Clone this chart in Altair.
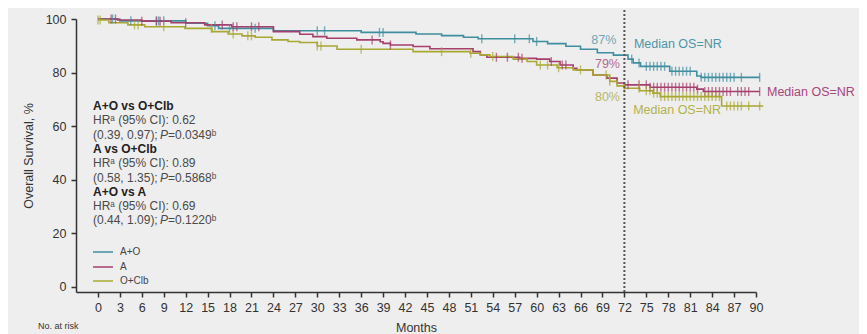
import altair as alt
import pandas as pd
import numpy as np

# ---------------- data ----------------
series = ["A+O", "A", "O+Clb"]
colors = ["#3f8e9f", "#a63f6c", "#a9a830"]

ao_t = [0, 3, 12, 15, 16.5, 24, 36, 43.5, 47, 50, 52, 59.5, 61.5, 64, 66, 68.3, 70.5, 72.5, 73.2, 74.2, 78.2, 81.9, 82.5, 90.5]
ao_s = [100, 99.3, 98.4, 97.5, 96.5, 95.6, 95.0, 94.4, 93.8, 93.2, 92.6, 91.6, 90.8, 89.8, 88.7, 87.4, 86.5, 85.0, 83.6, 82.3, 80.5, 78.7, 78.2, 78.2]

a_t = [0, 2.7, 6, 10, 14.6, 18.3, 24, 27.6, 29.4, 31.3, 35.4, 38.6, 39, 40, 43.1, 45.4, 51.3, 52.3, 53.2, 57.7, 60, 61.8, 63.2, 65, 65.5, 67.7, 69.6, 71, 72, 75.5, 81.9, 82.8, 90.5]
a_s = [100, 99.6, 99.2, 98.6, 97.8, 97.1, 95.3, 94.3, 93.4, 92.8, 92.2, 91.5, 90.9, 90.3, 89.7, 88.9, 87.8, 86.6, 85.7, 85.3, 85.0, 84.1, 82.8, 81.6, 81.0, 79.1, 77.9, 76.1, 75.4, 74.5, 73.8, 72.9, 72.9]

oc_t = [0, 1.5, 4.1, 6.4, 11.9, 15.6, 17.8, 19.7, 21.5, 23.8, 26, 27.6, 30, 32.7, 43.1, 50.9, 52.3, 53.6, 56.8, 58.7, 60, 62.8, 65, 67.7, 70, 71, 72, 74.1, 75.9, 76.9, 85.3, 91]
oc_s = [99.6, 98.6, 97.8, 97.1, 96.5, 95.3, 94.4, 93.7, 93.2, 92.2, 91.6, 91.2, 89.9, 88.7, 87.8, 87.2, 86.6, 86.0, 85.0, 84.1, 82.8, 81.8, 81.0, 79.1, 76.7, 75.0, 74.1, 73.2, 72.3, 71.0, 67.5, 67.5]

ao_cens = [2, 4.5, 8, 8.3, 9, 16, 18, 21.5, 30, 31, 38.5, 39, 52.5, 57, 59, 60, 73, 74, 75, 75.5, 76, 76.5, 77, 77.5, 78.5, 79, 79.5, 80, 80.5, 81, 82.5, 83, 83.5, 84, 84.5, 85, 85.5, 86, 86.5, 87, 88, 90.5]
a_cens = [1.8, 2.4, 6, 8, 8.5, 12, 17, 18.5, 19, 21, 22, 37.5, 40, 54.5, 56, 57.5, 58, 62, 63.5, 64, 72.5, 74, 75, 75.5, 76, 76.5, 77, 77.5, 78, 78.5, 79, 79.5, 80, 80.5, 81, 81.5, 82, 83, 83.5, 84, 84.5, 85, 85.5, 86, 86.5, 87.5, 88, 88.5, 89, 90.5]
oc_cens = [0, 0.3, 5, 5.5, 9, 15.5, 18.5, 20.5, 21, 30, 30.5, 36, 47, 51, 54, 60.5, 61.5, 63, 66, 69.5, 70, 72, 74, 75, 75.5, 76, 76.5, 77, 77.5, 78, 78.5, 79, 79.5, 80, 80.5, 81, 81.5, 82, 82.5, 83, 83.5, 84, 84.5, 85, 86, 86.5, 87, 87.5, 88, 89, 90.5]

x_ticks = list(range(0, 91, 3))
y_ticks = [0, 20, 40, 60, 80, 100]

stats_bold = ["A+O vs O+Clb", "A vs O+Clb", "A+O vs A"]
stats_hr = ["HRᵃ (95% CI): 0.62", "HRᵃ (95% CI): 0.89", "HRᵃ (95% CI): 0.69"]
stats_ci = ["(0.39, 0.97); ", "(0.58, 1.35); ", "(0.44, 1.09); "]
stats_p = ["=0.0349ᵇ", "=0.5868ᵇ", "=0.1220ᵇ"]

# ---------------- tables ----------------
curves = [(ao_t, ao_s, ao_cens), (a_t, a_s, a_cens), (oc_t, oc_s, oc_cens)]
rows, cens_rows = [], []
for name, (t, s, c) in zip(series, curves):
    for ti, si in zip(t, s):
        rows.append({"series": name, "t": ti, "s": si})
    t_arr = np.array(t)
    for ci in c:
        idx = int(np.searchsorted(t_arr, ci, side="right") - 1)
        cens_rows.append({"series": name, "t": ci, "s": s[max(idx, 0)]})
df = pd.DataFrame(rows)
dfc = pd.DataFrame(cens_rows)

FONT = "Liberation Sans"
xs = alt.Scale(domain=[-3, 90], nice=False, zero=False)
ys = alt.Scale(domain=[-2, 100], nice=False, zero=False)
cs = alt.Scale(domain=series, range=colors)

lines = alt.Chart(df).mark_line(interpolate="step-after", strokeWidth=1.6, clip=False).encode(
    x=alt.X("t:Q", scale=xs, axis=alt.Axis(values=x_ticks, tickCount=40, title="Months", grid=False,
                                          labelFontSize=12.5, labelOverlap=False, labelFlush=False,
                                          titleFontSize=12.5, titleFontWeight="normal", titlePadding=8,
                                          labelPadding=4)),
    y=alt.Y("s:Q", scale=ys, axis=alt.Axis(values=y_ticks, title="Overall Survival, %", grid=False,
                                          labelFontSize=12.5, titleFontSize=12.5, titleFontWeight="normal",
                                          titlePadding=10, labelPadding=5)),
    color=alt.Color("series:N", scale=cs, sort=series, legend=None),
    detail="series:N",
)

ticks = alt.Chart(dfc).mark_tick(orient="vertical", size=9, thickness=1.4, clip=False).encode(
    x=alt.X("t:Q", scale=xs), y=alt.Y("s:Q", scale=ys),
    color=alt.Color("series:N", scale=cs, legend=None),
)

vline = alt.Chart(pd.DataFrame({"t": [72], "y0": [-2], "y1": [104.5]})).mark_rule(
    strokeDash=[2, 2], strokeWidth=2, color="#555555", clip=False
).encode(x=alt.X("t:Q", scale=xs), y=alt.Y("y0:Q", scale=ys), y2="y1:Q")

lab_df = pd.DataFrame({
    "t": [70.9, 73.3, 71.4, 71.4, 73.2, 91.5],
    "s": [92.2, 90.7, 83.2, 70.9, 66.0, 72.8],
    "txt": ["87%", "Median OS=NR", "79%", "80%", "Median OS=NR", "Median OS=NR"],
    "align": ["right", "left", "right", "right", "left", "left"],
    "col": ["#6ea7b4", "#4a96a6", "#b5688e", "#b9b765", "#b3b24a", "#a8467a"],
})
labels = []
for al in ["left", "right"]:
    labels.append(alt.Chart(lab_df[lab_df["align"] == al]).mark_text(
        align=al, baseline="middle", fontSize=12.5, font=FONT, clip=False
    ).encode(x=alt.X("t:Q", scale=xs), y=alt.Y("s:Q", scale=ys), text="txt:N",
             color=alt.Color("col:N", scale=None)))

# legend (pixel positions inside plot area)
leg_df = pd.DataFrame({"series": series, "py": [233, 248, 262]})
leg_lines = alt.Chart(leg_df).mark_rule(strokeWidth=1.5).encode(
    x=alt.value(17), x2=alt.value(37), y=alt.Y("py:Q", scale=None),
    color=alt.Color("series:N", scale=cs, legend=None))
leg_text = alt.Chart(leg_df).mark_text(align="left", baseline="middle", fontSize=10, font=FONT,
                                       color="#444444").encode(
    x=alt.value(44), y=alt.Y("py:Q", scale=None), text="series:N")

# stats block (pixel positions inside plot area)
sx = 17
bold_df = pd.DataFrame({"txt": stats_bold, "py": [87, 130, 173]})
hr_df = pd.DataFrame({"txt": stats_hr, "py": [101, 144, 187]})
ci_df = pd.DataFrame({"txt": stats_ci, "py": [116, 159, 201]})
p_df = pd.DataFrame({"txt": stats_p, "py": [116, 159, 201]})
pp_df = pd.DataFrame({"txt": ["P", "P", "P"], "py": [116, 159, 201]})

def stat_text(d, x, weight="normal", style="normal", color="#4a4a4a"):
    return alt.Chart(d).mark_text(align="left", baseline="middle", fontSize=12, font=FONT,
                                  fontWeight=weight, fontStyle=style, color=color).encode(
        x=alt.value(x), y=alt.Y("py:Q", scale=None), text="txt:N")

stats = [
    stat_text(bold_df, sx, weight="bold", color="#222222"),
    stat_text(hr_df, sx),
    stat_text(ci_df, sx),
    stat_text(pp_df, sx + 67, style="italic"),
    stat_text(p_df, sx + 75),
]

risk = alt.Chart(pd.DataFrame({"txt": ["No. at risk"]})).mark_text(
    align="left", baseline="top", fontSize=9, font=FONT, color="#333333"
).encode(x=alt.value(-38), y=alt.value(303), text="txt:N")

chart = alt.layer(lines, ticks, vline, *labels, leg_lines, leg_text, *stats, risk).properties(
    width=680, height=273,
    background="#eeeeee",
    padding={"left": 68, "top": 11, "right": 103, "bottom": 60},
    autosize=alt.AutoSizeParams(type="none"),
).configure_view(stroke=None).configure_axis(
    domainColor="#333333", domainWidth=1.5, tickColor="#333333", tickWidth=1.5, tickSize=5,
    labelColor="#333333", titleColor="#333333", labelFont=FONT, titleFont=FONT,
)

chart.save("out.html", embed_options={"renderer": "svg", "actions": False})
